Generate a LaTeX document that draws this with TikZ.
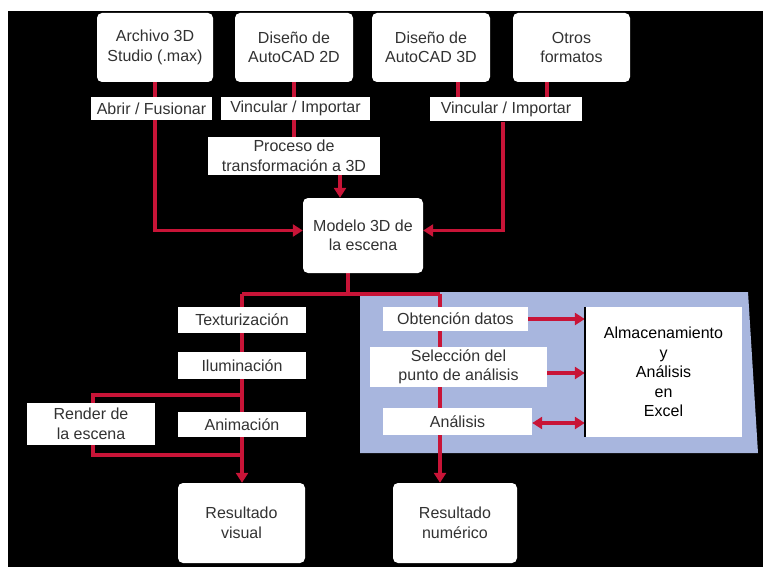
\documentclass[tikz,border=0pt]{standalone}
\usepackage{fontspec}
\setmainfont{Liberation Sans}
\usetikzlibrary{arrows.meta,calc}
\pgfdeclarelayer{bg}
\pgfdeclarelayer{lines}
\pgfsetlayers{bg,lines,main}
\definecolor{conn}{RGB}{200,20,55}
\definecolor{panelblue}{RGB}{168,182,222}
\definecolor{txt}{RGB}{50,50,50}
\begin{document}
\begin{tikzpicture}[x=1pt,y=-1pt,
  every node/.style={font=\fontsize{16}{19.5}\selectfont, text=txt, align=center, inner sep=0pt},
  rbox/.style={fill=white, rounded corners=5pt},
  lbox/.style={fill=white},
  link/.style={draw=conn, line width=3.2pt},
  tip/.style={-{Triangle[length=10pt,width=12pt]}},
  dtip/.style={{Triangle[length=10pt,width=12pt]}-{Triangle[length=10pt,width=12pt]}}]
\useasboundingbox (0,0) rectangle (763,567);
\begin{pgfonlayer}{bg}
\fill[white] (0,0) rectangle (763,567);
\fill[black] (8,11) rectangle (763,567);
\fill[panelblue] (360,292) -- (748,292) -- (758,453) -- (360,453) -- cycle;
\end{pgfonlayer}
% top boxes
\node[rbox, minimum width=116pt, minimum height=69pt] (b1) at (155,47.5) {Archivo 3D\\Studio (.max)};
\node[rbox, minimum width=118pt, minimum height=69pt] (b2) at (294,47.5) {Diseño de\\AutoCAD 2D};
\node[rbox, minimum width=118pt, minimum height=69pt] (b3) at (431,47.5) {Diseño de\\AutoCAD 3D};
\node[rbox, minimum width=117pt, minimum height=69pt] (b4) at (571.5,47.5) {Otros\\formatos};
% labels
\node[lbox, minimum width=121pt, minimum height=23pt] (l1) at (151.5,108.5) {Abrir / Fusionar};
\node[lbox, minimum width=149pt, minimum height=23pt] (l2) at (295.5,108.5) {Vincular / Importar};
\node[lbox, minimum width=152pt, minimum height=24pt] (l3) at (506,109.5) {Vincular / Importar};
\node[lbox, minimum width=172pt, minimum height=38pt] (proc) at (294,156) {Proceso de\\transformación a 3D};
\node[rbox, minimum width=120pt, minimum height=75pt] (modelo) at (363,235.5) {Modelo 3D de\\la escena};
% left branch
\node[lbox, minimum width=128pt, minimum height=26pt] (tex) at (242,320) {Texturización};
\node[lbox, minimum width=128pt, minimum height=27pt] (ilu) at (242,365.5) {Iluminación};
\node[lbox, minimum width=128pt, minimum height=25pt] (ani) at (242,424.5) {Animación};
\node[lbox, minimum width=128pt, minimum height=42pt] (render) at (91,424) {Render de\\la escena};
\node[rbox, minimum width=127pt, minimum height=80pt] (resvis) at (241.5,523) {Resultado\\visual};
% right branch
\node[lbox, minimum width=145pt, minimum height=24pt] (obt) at (455.5,319) {Obtención datos};
\node[lbox, minimum width=177pt, minimum height=40pt] (sel) at (458.5,367) {Selección del\\punto de análisis};
\node[lbox, minimum width=149pt, minimum height=27pt] (ana) at (457.5,421.5) {Análisis};
\node[lbox, minimum width=157pt, minimum height=130pt, text=black] (alm) at (663.5,372) {Almacenamiento\\y\\Análisis\\en\\Excel};
\node[rbox, minimum width=124pt, minimum height=80pt] (resnum) at (455,523) {Resultado\\numérico};
\draw[black, line width=1.5pt] (alm.north west) -- (alm.south west);
% coordinates
\coordinate (jL) at (242,294);
\coordinate (jM) at (348,294);
\coordinate (jR) at (440,294);
\coordinate (rT) at (242,395);
\coordinate (rB) at (242,455);
\begin{pgfonlayer}{lines}
\draw[link, tip] (b1.south) |- ([yshift=5pt]modelo.west);
\draw[link] (b2.south) -- (b2.south |- proc.north);
\draw[link, tip] ([xshift=-23pt]modelo.north |- proc.south) -- ([xshift=-23pt]modelo.north);
\draw[link] ([xshift=27pt]b3.south) -- ([xshift=27pt]b3.south |- l3.north);
\draw[link] ([xshift=-24.5pt]b4.south) -- ([xshift=-24.5pt]b4.south |- l3.north);
\draw[link, tip] ([xshift=-3pt]l3.south) |- ([yshift=5pt]modelo.east);
\draw[link] (modelo.south -| jM) -- (jM);
\draw[link] (jL) -- (jR);
\draw[link, tip] (jL) -- (jL |- resvis.north);
\draw[link, tip] (jR) -- (jR |- resnum.north);
\draw[link] (rT) -| ([xshift=2pt]render.north);
\draw[link] ([xshift=2pt]render.south) |- (rB);
\draw[link, tip] (obt.east) -- (obt.east -| alm.west);
\draw[link, tip] ([yshift=-6pt]sel.east) -- ([yshift=-6pt]sel.east -| alm.west);
\draw[link, dtip] ([yshift=-1.5pt]ana.east) -- ([yshift=-1.5pt]ana.east -| alm.west);
\end{pgfonlayer}
\end{tikzpicture}
\end{document}
